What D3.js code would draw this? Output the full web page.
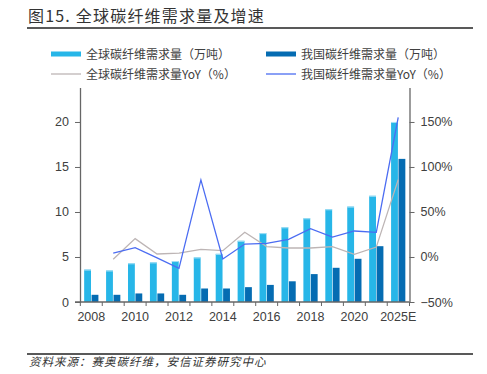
<!DOCTYPE html>
<html>
<head>
<meta charset="utf-8">
<script src="https://cdn.jsdelivr.net/npm/d3@7"></script>
<style>
  body { margin: 0; background: #fff; }
  svg { display: block; }
  .tick text { font-family: "Liberation Sans", Arial, sans-serif; font-size: 12.5px; fill: #404040; }
  .cjk { font-family: "Noto Sans CJK SC", sans-serif; }
</style>
</head>
<body>
<div id="chart"></div>
<script>
// data
var years = ['2008','2009','2010','2011','2012','2013','2014','2015','2016','2017','2018','2019','2020','2021','2025E'];
var xLabels = ['2008','2010','2012','2014','2016','2018','2020','2025E'];
var globalDemand = [3.6, 3.5, 4.3, 4.4, 4.55, 4.95, 5.35, 6.8, 7.65, 8.3, 9.3, 10.3, 10.6, 11.8, 20.0];
var chinaDemand = [0.8, 0.8, 0.95, 0.95, 0.8, 1.5, 1.5, 1.65, 1.9, 2.3, 3.1, 3.8, 4.8, 6.2, 15.9];
var globalYoY = [null, -2.6, 20.4, 3.3, 4.4, 8.5, 7, 27.4, 11.5, 10, 10, 11.5, 3, 11, 86];
var chinaYoY = [null, 4.4, 10.4, -1, -12.6, 85.6, -2.2, 14.4, 15.2, 19.6, 31.5, 22.2, 28.9, 27.4, 155];
var leftTicks = [0, 5, 10, 15, 20];
var rightTicks = [-50, 0, 50, 100, 150];

var W = 487, H = 374;
var plot = {left: 80, right: 409.5, top: 87.5, bottom: 302};

var svg = d3.select('#chart').append('svg').attr('width', W).attr('height', H);

// title + rules
svg.append('text').attr('class', 'cjk')
  .attr('x', 28).attr('y', 21.5)
  .style('font-size', '16px').style('letter-spacing', '1.2px').style('font-weight', 400)
  .attr('fill', '#333')
  .text('图15. 全球碳纤维需求量及增速');
svg.append('line').attr('x1', 27).attr('x2', 473).attr('y1', 28).attr('y2', 28)
  .attr('stroke', '#222').attr('stroke-width', 1.5);
svg.append('line').attr('x1', 27).attr('x2', 473).attr('y1', 354).attr('y2', 354)
  .attr('stroke', '#222').attr('stroke-width', 1.5);
svg.append('text').attr('class', 'cjk')
  .attr('x', 29).attr('y', 366)
  .style('font-size', '11.5px').style('font-style', 'italic').style('letter-spacing', '1px')
  .attr('fill', '#333')
  .text('资料来源：赛奥碳纤维，安信证券研究中心');

// scales
var x = d3.scaleBand().domain(years).range([plot.left, plot.right]).paddingInner(0.35).paddingOuter(0.19);
var x1 = d3.scaleBand().domain(['global', 'china']).range([0, x.bandwidth()]).paddingInner(0.08);
var yL = d3.scaleLinear().domain([0, 23.83]).range([plot.bottom, plot.top]);
var yR = d3.scaleLinear().domain([-50, 188.3]).range([plot.bottom, plot.top]);

var cx = function(i) { return x(years[i]) + x.bandwidth() / 2; };

// bars
var g = svg.append('g');
g.selectAll('rect.global')
  .data(globalDemand)
  .enter()
  .append('rect').classed('global', true)
  .attr('x', function(d, i) { return x(years[i]) + x1('global'); })
  .attr('y', function(d) { return yL(d); })
  .attr('width', x1.bandwidth())
  .attr('height', function(d) { return yL(0) - yL(d); })
  .attr('fill', '#27b6e8');
g.selectAll('rect.hl')
  .data(globalDemand)
  .enter()
  .append('rect').classed('hl', true)
  .attr('x', function(d, i) { return x(years[i]) + x1('global'); })
  .attr('y', function(d) { return yL(d); })
  .attr('width', x1.bandwidth())
  .attr('height', 1)
  .attr('fill', '#a6e0f5');
g.selectAll('rect.china')
  .data(chinaDemand)
  .enter()
  .append('rect').classed('china', true)
  .attr('x', function(d, i) { return x(years[i]) + x1('china'); })
  .attr('y', function(d) { return yL(d); })
  .attr('width', x1.bandwidth())
  .attr('height', function(d) { return yL(0) - yL(d); })
  .attr('fill', '#056cb2');

// lines
var line = d3.line()
  .defined(function(d) { return d != null; })
  .x(function(d, i) { return cx(i); })
  .y(function(d) { return yR(d); });

svg.append('path').datum(globalYoY)
  .attr('d', line).attr('fill', 'none')
  .attr('stroke', '#bdb5b5').attr('stroke-width', 1.3);
svg.append('path').datum(chinaYoY)
  .attr('d', line).attr('fill', 'none')
  .attr('stroke', '#4b6cf2').attr('stroke-width', 1.3);

// axes
var axisColor = '#666';
var leftAxis = svg.append('g').attr('transform', 'translate(' + plot.left + ',0)')
  .call(d3.axisLeft(yL).tickValues(leftTicks).tickSize(5).tickPadding(6).tickSizeOuter(0));
var rightAxis = svg.append('g').attr('transform', 'translate(' + plot.right + ',0)')
  .call(d3.axisRight(yR).tickValues(rightTicks).tickSize(5).tickPadding(6).tickSizeOuter(0)
    .tickFormat(function(d) { return (d < 0 ? '\u2212' + (-d) : d) + '%'; }));

var bottomAxis = svg.append('g').attr('transform', 'translate(0,' + plot.bottom + ')')
  .call(d3.axisBottom(x).tickSize(0).tickPadding(10)
    .tickFormat(function(d) { return xLabels.indexOf(d) >= 0 ? d : ''; }));
bottomAxis.select('.domain').remove();
svg.append('line')
  .attr('x1', plot.left - 5).attr('x2', plot.right)
  .attr('y1', plot.bottom).attr('y2', plot.bottom)
  .attr('stroke', axisColor).attr('stroke-width', 1.3);

// tick marks on band boundaries
var bounds = years.map(function(d) { return x(d) - x.step() * x.paddingInner() / 2; });
bounds.push(plot.right);
svg.selectAll('line.xt')
  .data(bounds)
  .enter()
  .append('line').classed('xt', true)
  .attr('x1', function(d) { return d; }).attr('x2', function(d) { return d; })
  .attr('y1', plot.bottom).attr('y2', plot.bottom + 4)
  .attr('stroke', axisColor).attr('stroke-width', 1);

[leftAxis, rightAxis].forEach(function(a) {
  a.select('.domain').attr('stroke', axisColor).attr('stroke-width', 1.3);
  a.selectAll('.tick line').attr('stroke', axisColor);
});

// legend
var legendRows = [
  {type: 'rect', color: '#27b6e8', label: '全球碳纤维需求量（万吨）', x: 51, y: 54},
  {type: 'rect', color: '#056cb2', label: '我国碳纤维需求量（万吨）', x: 266, y: 54},
  {type: 'line', color: '#bdb5b5', label: '全球碳纤维需求量YoY（%）', x: 51, y: 74},
  {type: 'line', color: '#4b6cf2', label: '我国碳纤维需求量YoY（%）', x: 266, y: 74}
];
var leg = svg.selectAll('g.leg')
  .data(legendRows)
  .enter()
  .append('g').classed('leg', true)
  .attr('transform', function(d) { return 'translate(' + d.x + ',' + d.y + ')'; });
leg.filter(function(d) { return d.type == 'rect'; })
  .append('rect').attr('x', 0).attr('y', -2.5).attr('width', 30).attr('height', 5)
  .attr('fill', function(d) { return d.color; });
leg.filter(function(d) { return d.type == 'line'; })
  .append('line').attr('x1', 0).attr('x2', 30).attr('y1', 0).attr('y2', 0)
  .attr('stroke', function(d) { return d.color; }).attr('stroke-width', 1.3);
leg.append('text').attr('class', 'cjk')
  .attr('x', 35).attr('y', 4.5)
  .style('font-size', '12px')
  .attr('fill', '#404040')
  .text(function(d) { return d.label; });
</script>
</body>
</html>
